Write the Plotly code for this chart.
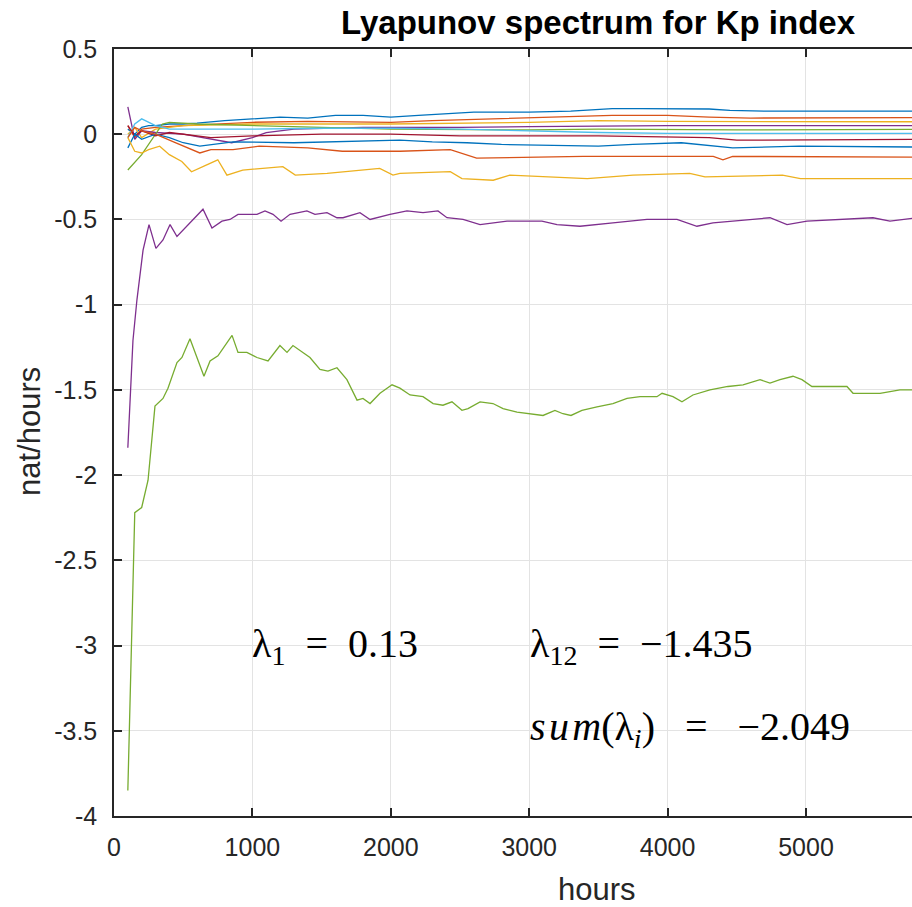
import plotly.graph_objects as go

# ---- data (hours, nat/hours) ----
t1 = [100, 150, 200, 250, 300, 400, 500, 600, 800, 1000, 1200, 1400, 1600, 1800, 2000, 2200, 2400, 2600, 2800, 3000, 3300, 3600, 3800, 4000, 4300, 4450, 4700, 5000, 5400, 5800]
v1 = [0.03, 0.0, 0.04, 0.05, 0.05, 0.06, 0.06, 0.065, 0.08, 0.09, 0.10, 0.095, 0.11, 0.11, 0.10, 0.11, 0.12, 0.13, 0.13, 0.13, 0.135, 0.15, 0.15, 0.15, 0.148, 0.14, 0.135, 0.135, 0.135, 0.135]

t2 = [100, 150, 200, 300, 500, 800, 1000, 1400, 2000, 2300, 2800, 3300, 3600, 4000, 4300, 4600, 5800]
v2 = [0.05, -0.02, 0.03, 0.04, 0.05, 0.06, 0.07, 0.075, 0.07, 0.08, 0.09, 0.10, 0.11, 0.11, 0.10, 0.095, 0.097]

t3 = [100, 150, 200, 300, 500, 1000, 2000, 2500, 3000, 3500, 4000, 5800]
v3 = [0.0, 0.04, -0.02, 0.03, 0.05, 0.06, 0.06, 0.065, 0.07, 0.08, 0.075, 0.073]

t4 = [100, 150, 200, 300, 500, 700, 850, 1000, 1100, 1300, 1800, 2500, 3000, 4000, 5800]
v4 = [0.16, -0.03, 0.02, 0.01, 0.0, -0.03, -0.05, -0.02, 0.01, 0.03, 0.04, 0.04, 0.045, 0.05, 0.05]

t5 = [100, 200, 350, 400, 600, 1000, 1500, 2000, 3000, 3500, 4500, 5800]
v5 = [-0.21, -0.12, 0.06, 0.07, 0.06, 0.05, 0.04, 0.03, 0.025, 0.03, 0.025, 0.029]

t6 = [100, 150, 200, 300, 400, 600, 1000, 1500, 2000, 2500, 3000, 3500, 4000, 5800]
v6 = [-0.02, 0.06, 0.09, 0.05, 0.03, 0.03, 0.03, 0.035, 0.035, 0.03, 0.02, 0.01, 0.005, 0.005]

t7 = [100, 150, 200, 300, 400, 500, 700, 1000, 1500, 2000, 2500, 3500, 4300, 4500, 5800]
v7 = [0.05, -0.01, 0.02, -0.01, 0.01, 0.0, -0.02, -0.01, 0.0, 0.0, -0.01, -0.01, -0.02, -0.035, -0.03]

t8 = [100, 150, 200, 300, 400, 500, 620, 860, 1300, 1700, 2066, 2300, 2550, 2800, 3500, 3750, 4100, 4470, 4950, 5800]
v8 = [-0.08, 0.0, -0.03, 0.0, -0.02, -0.05, -0.07, -0.045, -0.05, -0.04, -0.035, -0.045, -0.05, -0.06, -0.07, -0.06, -0.05, -0.08, -0.07, -0.075]

t9 = [100, 150, 200, 300, 430, 620, 700, 860, 1050, 1400, 1650, 2066, 2430, 2550, 2620, 3390, 4160, 4330, 4400, 4470, 5800]
v9 = [-0.02, 0.04, 0.02, 0.0, -0.045, -0.11, -0.09, -0.09, -0.07, -0.08, -0.10, -0.10, -0.09, -0.12, -0.14, -0.13, -0.13, -0.13, -0.15, -0.13, -0.135]

t10 = [100, 150, 200, 250, 330, 400, 490, 560, 670, 750, 816, 930, 1220, 1310, 1540, 1780, 1920, 2016, 2066, 2430, 2514, 2740, 2860, 3420, 3750, 4160, 4270, 4830, 4960, 5800]
v10 = [-0.02, -0.10, -0.11, -0.09, -0.07, -0.12, -0.16, -0.22, -0.18, -0.15, -0.24, -0.21, -0.19, -0.24, -0.23, -0.21, -0.20, -0.24, -0.23, -0.22, -0.26, -0.27, -0.24, -0.26, -0.24, -0.23, -0.25, -0.24, -0.26, -0.26]

t11 = [100, 137, 166, 210, 253, 303, 354, 405, 455, 549, 643, 708, 780, 838, 896, 960, 1033, 1091, 1149, 1207, 1272, 1394, 1452, 1539, 1611, 1655, 1777, 1850, 1994, 2117, 2233, 2341, 2406, 2522, 2645, 2840, 3092, 3201, 3367, 3605, 3851, 4068, 4212, 4328, 4595, 4740, 4863, 5007, 5484, 5607, 5800]
v11 = [-1.84, -1.21, -0.97, -0.68, -0.53, -0.67, -0.62, -0.53, -0.60, -0.52, -0.44, -0.55, -0.51, -0.50, -0.47, -0.47, -0.47, -0.45, -0.47, -0.51, -0.47, -0.45, -0.47, -0.46, -0.49, -0.49, -0.46, -0.50, -0.47, -0.45, -0.46, -0.45, -0.49, -0.50, -0.53, -0.51, -0.51, -0.53, -0.54, -0.52, -0.50, -0.50, -0.54, -0.52, -0.50, -0.49, -0.53, -0.51, -0.49, -0.51, -0.49]

t12 = [100, 150, 200, 246, 296, 354, 390, 455, 491, 549, 650, 694, 751, 853, 896, 960, 1033, 1113, 1199, 1250, 1293, 1366, 1416, 1488, 1546, 1611, 1683, 1756, 1799, 1850, 1922, 2009, 2066, 2139, 2233, 2306, 2377, 2442, 2514, 2558, 2645, 2738, 2811, 2912, 3006, 3100, 3186, 3244, 3302, 3381, 3490, 3605, 3707, 3801, 3923, 3960, 4039, 4104, 4183, 4306, 4436, 4545, 4668, 4740, 4812, 4906, 4971, 5043, 5116, 5296, 5340, 5535, 5607, 5679, 5800]
v12 = [-3.85, -2.22, -2.19, -2.03, -1.595, -1.55, -1.49, -1.34, -1.31, -1.20, -1.42, -1.33, -1.30, -1.18, -1.28, -1.28, -1.31, -1.33, -1.24, -1.28, -1.24, -1.28, -1.31, -1.38, -1.39, -1.37, -1.44, -1.56, -1.55, -1.58, -1.52, -1.47, -1.49, -1.53, -1.54, -1.58, -1.59, -1.57, -1.62, -1.61, -1.57, -1.58, -1.61, -1.63, -1.64, -1.65, -1.62, -1.64, -1.65, -1.62, -1.60, -1.58, -1.55, -1.54, -1.54, -1.52, -1.54, -1.57, -1.53, -1.50, -1.48, -1.47, -1.44, -1.46, -1.44, -1.42, -1.44, -1.48, -1.48, -1.48, -1.52, -1.52, -1.51, -1.50, -1.50]

series_t = [t1, t2, t3, t4, t5, t6, t7, t8, t9, t10, t11, t12]
series_v = [v1, v2, v3, v4, v5, v6, v7, v8, v9, v10, v11, v12]
colors = ["#0072BD", "#D95319", "#EDB120", "#7E2F8E", "#77AC30", "#4DBEEE", "#A2142F"]

y_ticks = [0.5, 0, -0.5, -1, -1.5, -2, -2.5, -3, -3.5, -4]
y_labels = ["0.5", "0", "-0.5", "-1", "-1.5", "-2", "-2.5", "-3", "-3.5", "-4"]
x_ticks = [0, 1000, 2000, 3000, 4000, 5000, 6000]

title_text = "Lyapunov spectrum for Kp index"
xlabel = "hours"
ylabel = "nat/hours"
lam1_text = "λ<sub>1</sub>  =  0.13"
lam12_text = "λ<sub>12</sub>  =  −1.435"
sum_text = "<i>s\u200au\u200am</i>(λ<sub><i>i</i></sub>)   =   −2.049"

fig = go.Figure()
for i, (t, v) in enumerate(zip(series_t, series_v)):
    fig.add_trace(go.Scatter(x=t, y=v, mode="lines",
                             line=dict(color=colors[i % 7], width=1.3),
                             showlegend=False, hoverinfo="skip"))

W, H = 912, 907
ml, mt, mb, mr = 114, 49, 91, 0
pw = W - ml - mr
ph = H - mt - mb

def px_to_paper_x(px):
    return (px - ml) / pw

def px_to_paper_y(py):
    return (H - mb - py) / ph

axis_col = "#262626"
grid_col = "#e3e3e3"
tick_font = dict(family="Liberation Sans, Arial, sans-serif", size=25, color=axis_col)
serif = "Liberation Serif, serif"

fig.update_layout(
    width=W, height=H,
    margin=dict(l=ml, r=mr, t=mt, b=mb, pad=0),
    paper_bgcolor="white", plot_bgcolor="white",
    xaxis=dict(range=[0, 5766], tickvals=x_ticks, ticktext=[str(v) for v in x_ticks],
               showgrid=True, gridcolor=grid_col, gridwidth=1,
               showline=True, linecolor=axis_col, linewidth=1.5, mirror="ticks",
               ticks="inside", ticklen=8, tickcolor=axis_col, tickwidth=1.5,
               tickfont=tick_font, ticklabelstandoff=8, zeroline=False),
    yaxis=dict(range=[-4, 0.5], tickvals=y_ticks, ticktext=y_labels,
               showgrid=True, gridcolor=grid_col, gridwidth=1,
               showline=True, linecolor=axis_col, linewidth=1.5, mirror=False,
               ticks="inside", ticklen=8, tickcolor=axis_col, tickwidth=1.5,
               tickfont=tick_font, ticklabelstandoff=10, zeroline=False),
)

annots = [
    dict(text="<b>" + title_text + "</b>", xref="paper", yref="paper",
         x=px_to_paper_x(598), y=px_to_paper_y(22), xanchor="center", yanchor="middle",
         showarrow=False, font=dict(family="Liberation Sans, Arial, sans-serif", size=33, color="#000000")),
    dict(text=xlabel, xref="paper", yref="paper",
         x=px_to_paper_x(597), y=px_to_paper_y(889), xanchor="center", yanchor="middle",
         showarrow=False, font=dict(family="Liberation Sans, Arial, sans-serif", size=31, color=axis_col)),
    dict(text=ylabel, xref="paper", yref="paper", textangle=-90,
         x=px_to_paper_x(30), y=px_to_paper_y(432), xanchor="center", yanchor="middle",
         showarrow=False, font=dict(family="Liberation Sans, Arial, sans-serif", size=31, color=axis_col)),
    dict(text=lam1_text, xref="x", yref="y", x=980, y=-3.0, xanchor="left", yanchor="middle",
         showarrow=False, font=dict(family=serif, size=40, color="#000000")),
    dict(text=lam12_text, xref="x", yref="y", x=2990, y=-3.0, xanchor="left", yanchor="middle",
         showarrow=False, font=dict(family=serif, size=40, color="#000000")),
    dict(text=sum_text, xref="x", yref="y", x=2990, y=-3.49, xanchor="left", yanchor="middle",
         showarrow=False, font=dict(family=serif, size=40, color="#000000")),
]
fig.update_layout(annotations=annots)

fig.write_html("out.html")
